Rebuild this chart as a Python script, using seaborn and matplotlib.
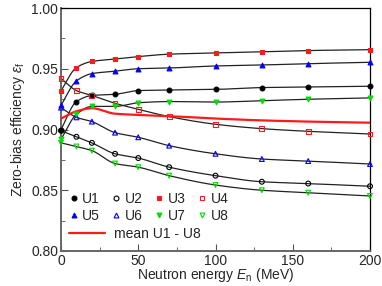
import matplotlib
matplotlib.use('Agg')
import matplotlib.pyplot as plt
from matplotlib.lines import Line2D
from matplotlib.ticker import MultipleLocator, FormatStrFormatter
import numpy as np
import pandas as pd
import seaborn as sns

# neutron energies (MeV)
energy = [0, 10, 20, 35, 50, 70, 100, 130, 160, 200]

u1 = [0.900, 0.923, 0.928, 0.929, 0.932, 0.9325, 0.933, 0.9345, 0.935, 0.9356]
u2 = [0.899, 0.894, 0.889, 0.880, 0.8765, 0.869, 0.862, 0.857, 0.8555, 0.8533]
u3 = [0.932, 0.951, 0.956, 0.958, 0.960, 0.962, 0.963, 0.964, 0.965, 0.9657]
u4 = [0.942, 0.932, 0.928, 0.9216, 0.9166, 0.9106, 0.9043, 0.9007, 0.8985, 0.8963]
u5 = [0.920, 0.940, 0.946, 0.948, 0.950, 0.9506, 0.9523, 0.9531, 0.9542, 0.9553]
u6 = [0.918, 0.910, 0.9065, 0.8974, 0.8936, 0.8867, 0.880, 0.8757, 0.874, 0.8716]
u7 = [0.892, 0.9125, 0.919, 0.919, 0.922, 0.923, 0.9226, 0.9237, 0.9249, 0.926]
u8 = [0.889, 0.886, 0.8826, 0.872, 0.869, 0.862, 0.8543, 0.850, 0.848, 0.8453]

# mean curve
mean_u = [0.909, 0.915, 0.9175, 0.913, 0.912, 0.911, 0.909, 0.9075, 0.9065, 0.9056]

names = ['U1', 'U2', 'U3', 'U4', 'U5', 'U6', 'U7', 'U8']
series = [u1, u2, u3, u4, u5, u6, u7, u8]
colors = ['black', 'black', '#ff1a1a', '#ff1a1a', '#0000ff', '#0000ff', '#00e000', '#00e000']
markers = ['o', 'o', 's', 's', '^', '^', 'v', 'v']
filled = [True, False, True, False, True, False, True, False]


def smooth(x, y, n=300):
    # monotone cubic (pchip) through the points, for the fit lines
    x = np.asarray(x, float)
    y = np.asarray(y, float)
    h = np.diff(x)
    d = np.diff(y) / h
    m = np.zeros_like(y)
    for k in range(1, len(x) - 1):
        if d[k - 1] * d[k] > 0:
            w1 = 2 * h[k] + h[k - 1]
            w2 = h[k] + 2 * h[k - 1]
            m[k] = (w1 + w2) / (w1 / d[k - 1] + w2 / d[k])
    m[0] = d[0]
    m[-1] = d[-1]
    xn = np.linspace(x[0], x[-1], n)
    idx = np.clip(np.searchsorted(x, xn) - 1, 0, len(x) - 2)
    t = (xn - x[idx]) / h[idx]
    h00 = 2 * t**3 - 3 * t**2 + 1
    h10 = t**3 - 2 * t**2 + t
    h01 = -2 * t**3 + 3 * t**2
    h11 = t**3 - t**2
    yn = h00 * y[idx] + h10 * h[idx] * m[idx] + h01 * y[idx + 1] + h11 * h[idx] * m[idx + 1]
    return xn, yn


sns.set_style('ticks')
plt.rcParams['font.family'] = ['Liberation Sans', 'DejaVu Sans']
plt.rcParams['mathtext.fontset'] = 'custom'
plt.rcParams['mathtext.rm'] = 'Liberation Sans'
plt.rcParams['mathtext.it'] = 'Liberation Sans:italic'

fig = plt.figure(figsize=(3.82, 2.86), dpi=100)
ax = fig.add_axes([61 / 382, 1 - 251 / 286, 309 / 382, 243 / 286])

for name, vals in zip(names, series):
    xs, ys = smooth(energy, vals)
    sns.lineplot(x=xs, y=ys, ax=ax, color='#222222', lw=0.9, zorder=2)

xs, ys = smooth(energy, mean_u)
sns.lineplot(x=xs, y=ys, ax=ax, color='#ff1a1a', lw=1.6, zorder=3)

for name, vals, c, mk, f in zip(names, series, colors, markers, filled):
    df = pd.DataFrame({'E': energy, 'eff': vals})
    sns.scatterplot(data=df, x='E', y='eff', ax=ax, marker=mk, s=12,
                    facecolor=c if f else 'none', edgecolor=c,
                    linewidth=0.8, zorder=4, clip_on=False)

ax.set_xlim(0, 200)
ax.set_ylim(0.80, 1.00)
ax.xaxis.set_major_locator(MultipleLocator(50))
ax.xaxis.set_minor_locator(MultipleLocator(25))
ax.yaxis.set_major_locator(MultipleLocator(0.05))
ax.yaxis.set_minor_locator(MultipleLocator(0.025))
ax.yaxis.set_major_formatter(FormatStrFormatter('%.2f'))
ax.tick_params(which='both', direction='in', labelsize=10, color='#555555', pad=2)
ax.tick_params(which='major', length=5)
ax.tick_params(which='minor', length=3)
for s in ['left', 'bottom']:
    ax.spines[s].set_color('#666666')
    ax.spines[s].set_linewidth(1.4)
for s in ['top', 'right']:
    ax.spines[s].set_color('black')
    ax.spines[s].set_linewidth(0.9)
    ax.spines[s].set_visible(True)

ax.set_xlabel(r'Neutron energy $E_\mathrm{n}$ (MeV)', fontsize=10, labelpad=-1)
ax.set_ylabel(r'Zero-bias efficiency $\varepsilon_\mathrm{f}$', fontsize=10, labelpad=3)

# legend: markers in two rows of four, then the mean line
order = [0, 4, 1, 5, 2, 6, 3, 7]
handles = []
for i in order:
    handles.append(Line2D([], [], ls='none', marker=markers[i], ms=3.5,
                          mfc=colors[i] if filled[i] else 'none', mec=colors[i],
                          mew=0.8, label=names[i]))
leg1 = ax.legend(handles=handles, ncol=4, loc='upper left',
                 bbox_to_anchor=(0.0, 0.278), frameon=False, fontsize=10,
                 handlelength=0.6, handletextpad=0.3, columnspacing=0.9,
                 labelspacing=0.2, borderaxespad=0.2)
ax.add_artist(leg1)
mean_handle = Line2D([], [], color='#ff1a1a', lw=1.6, label='mean U1 - U8')
ax.legend(handles=[mean_handle], loc='upper left', bbox_to_anchor=(0.0, 0.135),
          frameon=False, fontsize=10, handlelength=2.6, handletextpad=0.6,
          borderaxespad=0.2)

plt.savefig('out.png', dpi=100)
